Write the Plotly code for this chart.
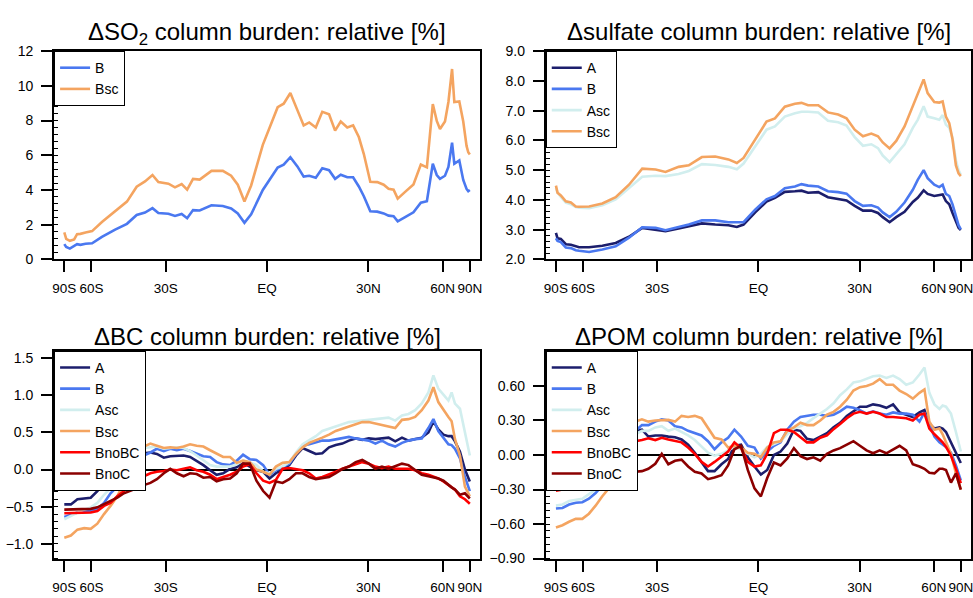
import numpy as np
import plotly.graph_objects as go

# ---------------- data (latitudes in degrees) ----------------
lat_so2 = [-88.5, -82, -76.5, -72, -69.5, -67, -63.5, -59.6, -54.5, -48.5,
           -43.7, -40, -37, -34.4, -32.4, -29.1, -27, -24.9, -23.2, -21.4,
           -19.4, -15.9, -12.6, -10.2, -8.3, -6.4, -4.5, -1.2, 3, 4.7,
           6.6, 8.6, 10.4, 12, 13.9, 15.8, 17.8, 19.6, 21.3, 23.3,
           25.1, 26.9, 28.5, 30.6, 32.9, 35.1, 36.8, 38.6, 40.1, 42.9,
           46.2, 49.3, 52.0, 54.8, 56.8, 58.5, 61.3, 63.4, 65.8, 67.4,
           71.4, 75.3, 79.6, 82.7, 88.5]
so2_B = [0.88, 0.72, 0.62, 0.75, 0.88, 0.84, 0.9, 0.93, 1.3, 1.72,
         2.05, 2.56, 2.7, 2.95, 2.67, 2.63, 2.5, 2.62, 2.37, 2.84,
         2.82, 3.12, 3.08, 2.93, 2.65, 2.11, 2.6, 4.0, 5.29, 5.46,
         5.89, 5.36, 4.77, 4.82, 4.71, 5.25, 5.14, 4.64, 4.88, 4.73,
         4.73, 4.2, 3.64, 2.77, 2.75, 2.65, 2.52, 2.49, 2.19, 2.43,
         2.71, 3.27, 3.35, 5.51, 4.86, 4.64, 4.82, 5.33, 6.73, 5.51,
         5.7, 4.58, 4.06, 3.93, 4.0]
so2_Bsc = [1.55, 1.18, 1.07, 1.15, 1.45, 1.47, 1.55, 1.63, 2.15, 2.77,
           3.33, 4.19, 4.49, 4.86, 4.45, 4.36, 4.15, 4.34, 4.02, 4.64,
           4.6, 5.1, 5.1, 4.82, 4.3, 3.33, 4.26, 6.6, 8.77, 8.97,
           9.59, 8.6, 7.72, 7.89, 7.6, 8.5, 8.36, 7.42, 7.94, 7.6,
           7.72, 7.05, 6.07, 4.47, 4.45, 4.3, 4.07, 4.02, 3.5, 3.89,
           4.32, 5.46, 5.3, 8.95, 7.98, 7.51, 7.94, 9.07, 10.97, 9.07,
           9.1, 7.94, 6.54, 6.17, 6.04]

lat_sulf = [-88.5, -82.7, -77.3, -72.0, -67.8, -64.4, -62.3, -56.7, -50.4, -44.8,
            -39.7, -35.0, -30.5, -27.3, -23.2, -20.1, -16.2, -12.3, -8.5, -6.1,
            -4.2, -0.9, 2.3, 4.7, 7.5, 10.4, 12.3, 14.2, 17.2, 20.1,
            23.2, 25.8, 28.4, 31.1, 33.9, 36.2, 37.9, 40.4, 42.9, 46.2,
            49.7, 51.9, 54.7, 56.7, 60.3, 63.3, 65.5, 67.8, 70.5, 73.5,
            77.3, 81.3, 88.5]
sulf_A = [2.89, 2.71, 2.69, 2.51, 2.49, 2.43, 2.41, 2.41, 2.46, 2.55,
          2.76, 3.06, 3.0, 2.95, 3.04, 3.12, 3.21, 3.17, 3.15, 3.09,
          3.17, 3.58, 3.94, 4.07, 4.27, 4.29, 4.31, 4.24, 4.26, 4.09,
          4.04, 3.98, 3.8, 3.64, 3.64, 3.56, 3.42, 3.25, 3.42, 3.6,
          3.93, 4.07, 4.32, 4.2, 4.13, 4.15, 4.18, 3.96, 3.85, 3.56,
          3.25, 3.06, 2.99]
sulf_B = [2.71, 2.62, 2.58, 2.4, 2.38, 2.31, 2.29, 2.25, 2.33, 2.44,
          2.73, 3.08, 3.06, 2.98, 3.09, 3.17, 3.31, 3.31, 3.25, 3.25,
          3.25, 3.67, 4.02, 4.13, 4.39, 4.45, 4.53, 4.48, 4.45, 4.29,
          4.26, 4.21, 3.96, 3.8, 3.82, 3.74, 3.58, 3.42, 3.6, 3.91,
          4.34, 4.67, 5.0, 4.73, 4.51, 4.43, 4.51, 4.2, 4.13, 3.85,
          3.42, 3.15, 3.01]
sulf_Asc = [4.4, 4.25, 4.1, 3.91, 3.85, 3.76, 3.74, 3.72, 3.82, 4.02,
            4.4, 4.78, 4.81, 4.8, 4.87, 4.97, 5.2, 5.17, 5.11, 5.03,
            5.22, 5.82, 6.36, 6.47, 6.8, 6.91, 6.96, 6.96, 6.94, 6.66,
            6.61, 6.5, 6.11, 5.82, 5.87, 5.74, 5.49, 5.27, 5.52, 5.87,
            6.42, 6.69, 7.15, 6.8, 6.74, 6.69, 6.85, 6.53, 6.42, 6.09,
            5.33, 5.0, 4.84]
sulf_Bsc = [4.48, 4.24, 4.15, 3.95, 3.91, 3.78, 3.77, 3.78, 3.88, 4.09,
            4.51, 5.05, 5.02, 4.94, 5.11, 5.16, 5.44, 5.46, 5.36, 5.24,
            5.41, 6.03, 6.63, 6.74, 7.13, 7.23, 7.26, 7.18, 7.18, 6.94,
            6.87, 6.74, 6.36, 6.14, 6.23, 6.14, 5.93, 5.73, 5.98, 6.47,
            7.13, 7.56, 8.05, 7.59, 7.29, 7.27, 7.31, 6.8, 6.58, 6.03,
            5.16, 4.89, 4.8]

lat_aer = [-88.5, -75.3, -69.2, -64.4, -60.4, -56.8, -53.5, -50.5, -47.6, -44.9,
           -42.3, -39.8, -37.4, -35.1, -32.9, -30.6, -28.5, -26.4, -24.3, -22.3,
           -20.3, -18.3, -16.3, -14.4, -12.5, -10.5, -8.6, -6.8, -4.9, -3.0,
           -1.1,
           0.7, 2.5, 4.4, 6.3, 8.2, 10.1, 12.0, 13.9, 15.8, 17.8,
           19.8, 21.8, 23.8, 25.9, 28.0, 30.1, 32.3, 34.5, 36.8, 39.2,
           41.7, 44.2, 46.9, 49.7, 52.7, 55.1, 57.6, 60.4, 63.4, 65.5,
           67.9, 72.0, 77.3, 88.5]

bc_A = [-0.47, -0.47, -0.40, -0.39, -0.38, -0.29, -0.18, -0.12, -0.05, 0.04,
        0.12, 0.19, 0.22, 0.23, 0.21, 0.16, 0.18, 0.19, 0.19, 0.17,
        0.12, 0.06, -0.01, -0.07, -0.05, 0.01, 0.03, 0.09, 0.04, -0.01,
        -0.03,
        -0.12, -0.05, 0.01, 0.06, 0.19, 0.29, 0.25, 0.21, 0.22, 0.30,
        0.33, 0.35, 0.39, 0.42, 0.40, 0.42, 0.41, 0.42, 0.43, 0.38,
        0.43, 0.39, 0.41, 0.43, 0.50, 0.65, 0.54, 0.47, 0.45, 0.45,
        0.38, 0.24, 0.0, -0.16]
bc_B = [-0.64, -0.61, -0.58, -0.57, -0.56, -0.53, -0.45, -0.32, -0.23, -0.10,
        0.06, 0.17, 0.19, 0.23, 0.28, 0.25, 0.28, 0.26, 0.28, 0.25,
        0.21, 0.18, 0.17, 0.10, 0.07, 0.06, 0.12, 0.20, 0.14, 0.13,
        0.06,
        -0.07, -0.01, 0.04, 0.08, 0.21, 0.32, 0.34, 0.36, 0.39, 0.39,
        0.41, 0.43, 0.44, 0.42, 0.41, 0.39, 0.35, 0.39, 0.34, 0.31,
        0.36, 0.39, 0.41, 0.42, 0.56, 0.68, 0.52, 0.43, 0.34, 0.33,
        0.28, 0.15, -0.10, -0.29]
bc_Asc = [-0.67, -0.62, -0.58, -0.54, -0.51, -0.45, -0.34, -0.25, -0.14, 0.01,
          0.14, 0.23, 0.29, 0.30, 0.31, 0.28, 0.29, 0.30, 0.29, 0.25,
          0.19, 0.12, 0.06, 0.04, 0.04, 0.04, 0.07, 0.12, 0.10, 0.06,
          -0.03,
          -0.05, 0.01, 0.04, 0.10, 0.23, 0.34, 0.39, 0.45, 0.52, 0.55,
          0.58, 0.61, 0.64, 0.65, 0.66, 0.66, 0.67, 0.68, 0.70, 0.66,
          0.73, 0.75, 0.80, 0.89, 1.04, 1.27, 1.09, 1.01, 0.93, 1.04,
          0.89, 0.82, 0.52, 0.19]
bc_Bsc = [-0.92, -0.89, -0.81, -0.79, -0.80, -0.73, -0.60, -0.49, -0.36, -0.18,
          0.04, 0.19, 0.31, 0.35, 0.32, 0.29, 0.30, 0.29, 0.31, 0.34,
          0.32, 0.31, 0.26, 0.21, 0.17, 0.17, 0.09, 0.12, 0.10, 0.0,
          -0.03,
          -0.07, 0.04, 0.09, 0.10, 0.21, 0.30, 0.36, 0.39, 0.43, 0.47,
          0.52, 0.55, 0.58, 0.61, 0.64, 0.64, 0.62, 0.61, 0.59, 0.56,
          0.67, 0.68, 0.71, 0.80, 0.93, 1.11, 0.91, 0.80, 0.71, 0.65,
          0.41, 0.19, -0.23, -0.36]
bc_BnoBC = [-0.59, -0.59, -0.59, -0.58, -0.58, -0.56, -0.49, -0.45, -0.36, -0.29,
            -0.21, -0.14, -0.09, -0.05, -0.03, -0.02, 0.0, -0.01, 0.01, 0.03,
            -0.01, -0.03, -0.07, -0.13, -0.10, -0.07, -0.03, 0.04, 0.07, -0.05,
            -0.15,
            -0.18, -0.14, 0.01, 0.02, 0.01, -0.01, -0.05, -0.12, -0.10, -0.07,
            -0.03, 0.01, 0.04, 0.07, 0.10, 0.08, 0.04, 0.02, 0.04, 0.01,
            0.01, 0.01, -0.01, -0.05, -0.07, -0.09, -0.12, -0.16, -0.21, -0.24,
            -0.27, -0.36, -0.40, -0.46]
bc_BnoC = [-0.54, -0.54, -0.54, -0.54, -0.53, -0.51, -0.47, -0.43, -0.38, -0.32,
           -0.29, -0.25, -0.21, -0.18, -0.13, -0.05, 0.01, -0.05, -0.09, -0.05,
           -0.06, -0.11, -0.10, -0.16, -0.13, -0.12, -0.05, 0.08, 0.08, -0.15,
           -0.29,
           -0.38, -0.16, -0.18, -0.13, -0.05, -0.05, -0.10, -0.13, -0.12, -0.10,
           -0.05, 0.01, 0.04, 0.10, 0.13, 0.08, 0.01, 0.04, 0.01, 0.04,
           0.08, 0.06, -0.01, -0.07, -0.09, -0.10, -0.12, -0.15, -0.21, -0.24,
           -0.27, -0.34, -0.32, -0.39]

pom_A = [-0.175, -0.18, -0.15, -0.14, -0.14, -0.10, -0.02, 0.015, 0.05, 0.12,
         0.15, 0.18, 0.21, 0.22, 0.16, 0.17, 0.17, 0.16, 0.155, 0.135,
         0.09, 0.02, -0.06, -0.14, -0.14, -0.08, -0.035, 0.08, 0.09, -0.02,
         -0.10,
         -0.17, -0.13, 0.0, 0.03, 0.10, 0.22, 0.21, 0.14, 0.13, 0.16,
         0.19, 0.24, 0.28, 0.34, 0.38, 0.42, 0.42, 0.44, 0.43, 0.41,
         0.44, 0.37, 0.35, 0.33, 0.37, 0.39, 0.27, 0.23, 0.24, 0.23,
         0.20, 0.11, 0.01, -0.07]
pom_B = [-0.465, -0.46, -0.43, -0.415, -0.41, -0.38, -0.33, -0.27, -0.20, -0.10,
         0.02, 0.13, 0.21, 0.26, 0.26, 0.29, 0.31, 0.30, 0.25, 0.24,
         0.21, 0.19, 0.17, 0.12, 0.05, 0.11, 0.15, 0.22, 0.16, 0.08,
         0.065,
         -0.03, 0.03, 0.08, 0.11, 0.22, 0.29, 0.33, 0.34, 0.35, 0.35,
         0.34, 0.35, 0.38, 0.42, 0.41, 0.39, 0.36, 0.38, 0.36, 0.35,
         0.37, 0.36, 0.36, 0.35, 0.29, 0.37, 0.27, 0.16, 0.11, 0.09,
         0.07, 0.02, -0.09, -0.22]
pom_Asc = [-0.44, -0.43, -0.40, -0.39, -0.38, -0.34, -0.30, -0.22, -0.16, -0.05,
           0.065, 0.15, 0.18, 0.21, 0.21, 0.24, 0.25, 0.21, 0.23, 0.20,
           0.17, 0.13, 0.07, 0.02, -0.005, 0.01, 0.04, 0.07, 0.05, 0.01,
           -0.02,
           0.01, 0.07, 0.095, 0.12, 0.18, 0.23, 0.25, 0.28, 0.32, 0.36,
           0.40, 0.45, 0.52, 0.57, 0.63, 0.64, 0.66, 0.685, 0.69, 0.67,
           0.69, 0.66, 0.61, 0.63, 0.70, 0.76, 0.54, 0.44, 0.40, 0.43,
           0.42, 0.36, 0.20, 0.03]
pom_Bsc = [-0.63, -0.61, -0.58, -0.555, -0.555, -0.51, -0.44, -0.36, -0.29, -0.16,
           -0.005, 0.15, 0.29, 0.31, 0.29, 0.30, 0.30, 0.305, 0.29, 0.34,
           0.33, 0.34, 0.32, 0.23, 0.15, 0.135, 0.065, 0.08, 0.065, 0.02,
           0.01,
           -0.02, 0.065, 0.11, 0.12, 0.21, 0.24, 0.28, 0.26, 0.26, 0.30,
           0.35, 0.375, 0.42, 0.48, 0.56, 0.59, 0.60, 0.62, 0.66, 0.61,
           0.61, 0.56, 0.53, 0.49, 0.54, 0.57, 0.29, 0.22, 0.23, 0.18,
           0.11, 0.01, -0.16, -0.30]
pom_BnoBC = [-0.31, -0.30, -0.27, -0.27, -0.245, -0.22, -0.16, -0.13, -0.10, -0.035,
             0.05, 0.09, 0.12, 0.13, 0.145, 0.13, 0.15, 0.135, 0.12, 0.11,
             0.065, 0.01, -0.06, -0.10, -0.06, -0.01, 0.03, 0.11, 0.06, -0.06,
             -0.10,
             -0.09, 0.01, 0.19, 0.22, 0.22, 0.20, 0.155, 0.11, 0.11, 0.15,
             0.17, 0.225, 0.27, 0.32, 0.36, 0.375, 0.36, 0.375, 0.36, 0.33,
             0.33, 0.325, 0.32, 0.30, 0.35, 0.36, 0.23, 0.18, 0.135, 0.11,
             0.07, -0.005, -0.12, -0.245]
pom_BnoC = [-0.275, -0.28, -0.28, -0.28, -0.28, -0.275, -0.25, -0.24, -0.21, -0.195,
            -0.13, -0.16, -0.145, -0.14, -0.12, -0.076, 0.01, -0.08, -0.05, -0.04,
            -0.10, -0.145, -0.16, -0.21, -0.195, -0.175, -0.09, 0.05, 0.08, -0.13,
            -0.29,
            -0.36, -0.20, -0.065, -0.09, -0.03, 0.06, -0.01, -0.035, -0.02, -0.05,
            0.01, 0.04, 0.06, 0.09, 0.12, 0.08, 0.04, 0.015, 0.04, 0.015,
            0.05, 0.08, 0.04, -0.08, -0.10, -0.12, -0.155, -0.16, -0.12, -0.12,
            -0.13, -0.24, -0.16, -0.30]

tick_lats = [-90, -60, -30, 0, 30, 60, 90]
tick_text = ["90S", "60S", "30S", "EQ", "30N", "60N", "90N"]

colors = {"A": "#1c1e6c", "B": "#4a78f0", "Asc": "#d1eeee",
          "Bsc": "#f4a460", "BnoBC": "#ff0000", "BnoC": "#8b0000"}

FONT = "Liberation Sans, Arial, Helvetica, sans-serif"
W, H = 973, 598


def sinlat(lats):
    return np.sin(np.deg2rad(np.asarray(lats, dtype=float)))


fig = go.Figure()

panels = [
    dict(idx=1, lat=lat_so2, series=[("B", so2_B), ("Bsc", so2_Bsc)],
         yrange=[0, 12], ytick=[0, 2, 4, 6, 8, 10, 12], yfmt="d", zero=False,
         title="\u0394SO<sub>2</sub> column burden: relative [%]"),
    dict(idx=2, lat=lat_sulf, series=[("A", sulf_A), ("B", sulf_B), ("Asc", sulf_Asc), ("Bsc", sulf_Bsc)],
         yrange=[2, 9], ytick=[2, 3, 4, 5, 6, 7, 8, 9], yfmt=".1f", zero=False,
         title="\u0394sulfate column burden: relative [%]"),
    dict(idx=3, lat=lat_aer, series=[("A", bc_A), ("B", bc_B), ("Asc", bc_Asc), ("Bsc", bc_Bsc),
                                     ("BnoBC", bc_BnoBC), ("BnoC", bc_BnoC)],
         yrange=[-1.2, 1.6], ytick=[-1.0, -0.5, 0.0, 0.5, 1.0, 1.5], yfmt=".1f", zero=True,
         title="\u0394BC column burden: relative [%]"),
    dict(idx=4, lat=lat_aer, series=[("A", pom_A), ("B", pom_B), ("Asc", pom_Asc), ("Bsc", pom_Bsc),
                                     ("BnoBC", pom_BnoBC), ("BnoC", pom_BnoC)],
         yrange=[-0.9, 0.905], ytick=[-0.9, -0.6, -0.3, 0.0, 0.3, 0.6], yfmt=".2f", zero=True,
         title="\u0394POM column burden: relative [%]"),
]

# plot-area positions in pixels (left, right, top, bottom)
boxes = {1: (52.3, 480.0, 44.3, 258.3), 2: (546.0, 973.0, 44.3, 258.3),
         3: (52.3, 480.0, 352.3, 565.7), 4: (546.0, 973.0, 352.3, 565.7)}
title_top = {1: 8.5, 2: 8.5, 3: 321.5, 4: 321.5}

layout = dict(width=W, height=H, margin=dict(l=0, r=0, t=0, b=0),
              paper_bgcolor="white", plot_bgcolor="white",
              font=dict(family=FONT, color="black", size=14),
              showlegend=True, annotations=[])

for p in panels:
    i = p["idx"]
    xa = "xaxis" if i == 1 else f"xaxis{i}"
    ya = "yaxis" if i == 1 else f"yaxis{i}"
    xr = "x" if i == 1 else f"x{i}"
    yr = "y" if i == 1 else f"y{i}"
    lg = "legend" if i == 1 else f"legend{i}"
    l, r, t, b = boxes[i]
    xdom = [l / W, min(r / W, 1.0)]
    ydom = [1 - b / H, 1 - t / H]
    for name, vals in p["series"]:
        fig.add_trace(go.Scatter(
            x=sinlat(p["lat"]), y=vals, mode="lines", name=name,
            line=dict(color=colors[name], width=2.6),
            xaxis=xr, yaxis=yr, legend=lg, showlegend=True))
    layout[xa] = dict(domain=xdom, anchor=yr, range=[-1.05, 1.05],
                      tickmode="array", tickvals=sinlat(tick_lats).tolist(), ticktext=tick_text,
                      tickangle=0, ticklabeloverflow="allow",
                      ticks="outside", ticklen=11, tickwidth=2, tickcolor="black",
                      showline=True, linecolor="black", linewidth=2, mirror=True,
                      showgrid=False, zeroline=False, tickfont=dict(size=13.5),
                      ticklabelstandoff=4)
    layout[ya] = dict(domain=ydom, anchor=xr, range=p["yrange"],
                      tickmode="array", tickvals=p["ytick"], tickformat=p["yfmt"],
                      ticks="outside", ticklen=11, tickwidth=2, tickcolor="black",
                      minor=dict(ticks="inside", ticklen=4, tickwidth=1, tickcolor="black",
                                 dtick=(p["ytick"][1] - p["ytick"][0]) / 5, showgrid=False),
                      showline=True, linecolor="black", linewidth=2, mirror=True,
                      showgrid=False, zeroline=p["zero"], zerolinecolor="black", zerolinewidth=2,
                      tickfont=dict(size=14), ticklabelstandoff=5)
    layout[lg] = dict(x=xdom[0], y=ydom[1], xanchor="left", yanchor="top",
                      xref="paper", yref="paper",
                      bgcolor="white", bordercolor="black", borderwidth=1,
                      font=dict(size=14, family=FONT), itemwidth=30, tracegroupgap=0)
    layout["annotations"].append(dict(
        text=p["title"], xref="paper", yref="paper",
        x=(xdom[0] + xdom[1]) / 2 if i in (1, 3) else (l + 973.7) / 2 / W,
        y=1 - title_top[i] / H, xanchor="center", yanchor="top",
        showarrow=False, font=dict(size=24, family=FONT, color="black")))

fig.update_layout(**layout)
fig.write_html("out.html", config={"displayModeBar": False})
